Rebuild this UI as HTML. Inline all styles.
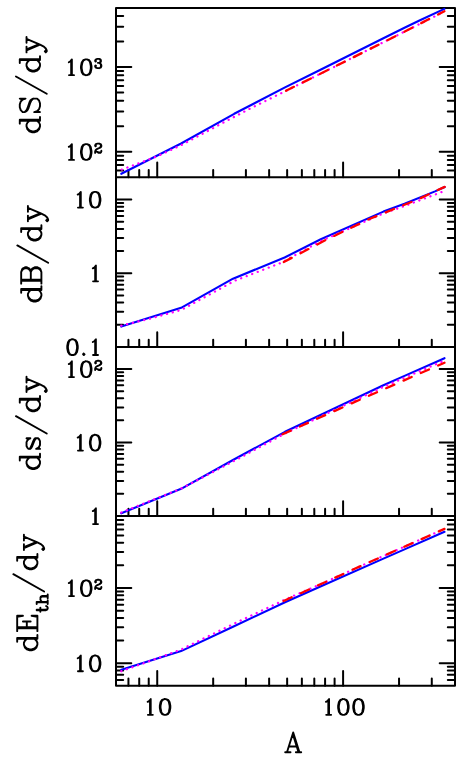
<!DOCTYPE html>
<html><head><meta charset="utf-8"><title>plot</title>
<style>html,body{margin:0;padding:0;background:#fff}svg{display:block}</style></head><body>
<svg width="463" height="760" viewBox="0 0 463 760">
<rect width="463" height="760" fill="#fff"/>
<g fill="none" stroke="#000" stroke-width="2.00" stroke-linecap="round" stroke-linejoin="round">
<path d="M116.00 170.59h7.2M455.00 170.59h-7.2M116.00 164.92h7.2M455.00 164.92h-7.2M116.00 160.01h7.2M455.00 160.01h-7.2M116.00 155.68h7.2M455.00 155.68h-7.2M116.00 151.80h15.3M455.00 151.80h-15.3M116.00 126.30h7.2M455.00 126.30h-7.2M116.00 111.39h7.2M455.00 111.39h-7.2M116.00 100.81h7.2M455.00 100.81h-7.2M116.00 92.60h7.2M455.00 92.60h-7.2M116.00 85.89h7.2M455.00 85.89h-7.2M116.00 80.22h7.2M455.00 80.22h-7.2M116.00 75.31h7.2M455.00 75.31h-7.2M116.00 70.98h7.2M455.00 70.98h-7.2M116.00 67.10h15.3M455.00 67.10h-15.3M116.00 41.60h7.2M455.00 41.60h-7.2M116.00 26.69h7.2M455.00 26.69h-7.2M116.00 16.11h7.2M455.00 16.11h-7.2M128.44 177.25v-7.2M139.22 177.25v-7.2M148.73 177.25v-7.2M157.23 177.25v-14.8M213.18 177.25v-7.2M245.91 177.25v-7.2M269.14 177.25v-7.2M287.15 177.25v-7.2M301.86 177.25v-7.2M314.31 177.25v-7.2M325.09 177.25v-7.2M334.59 177.25v-7.2M343.10 177.25v-14.8M399.05 177.25v-7.2M431.78 177.25v-7.2M116.00 324.76h7.2M455.00 324.76h-7.2M116.00 311.79h7.2M455.00 311.79h-7.2M116.00 302.58h7.2M455.00 302.58h-7.2M116.00 295.44h7.2M455.00 295.44h-7.2M116.00 289.60h7.2M455.00 289.60h-7.2M116.00 284.67h7.2M455.00 284.67h-7.2M116.00 280.39h7.2M455.00 280.39h-7.2M116.00 276.62h7.2M455.00 276.62h-7.2M116.00 273.25h15.3M455.00 273.25h-15.3M116.00 251.06h7.2M455.00 251.06h-7.2M116.00 238.09h7.2M455.00 238.09h-7.2M116.00 228.88h7.2M455.00 228.88h-7.2M116.00 221.74h7.2M455.00 221.74h-7.2M116.00 215.90h7.2M455.00 215.90h-7.2M116.00 210.97h7.2M455.00 210.97h-7.2M116.00 206.69h7.2M455.00 206.69h-7.2M116.00 202.92h7.2M455.00 202.92h-7.2M116.00 199.55h15.3M455.00 199.55h-15.3M128.44 347.00v-7.2M139.22 347.00v-7.2M148.73 347.00v-7.2M157.23 347.00v-14.8M213.18 347.00v-7.2M245.91 347.00v-7.2M269.14 347.00v-7.2M287.15 347.00v-7.2M301.86 347.00v-7.2M314.31 347.00v-7.2M325.09 347.00v-7.2M334.59 347.00v-7.2M343.10 347.00v-14.8M399.05 347.00v-7.2M431.78 347.00v-7.2M116.00 493.87h7.2M455.00 493.87h-7.2M116.00 480.93h7.2M455.00 480.93h-7.2M116.00 471.75h7.2M455.00 471.75h-7.2M116.00 464.63h7.2M455.00 464.63h-7.2M116.00 458.81h7.2M455.00 458.81h-7.2M116.00 453.89h7.2M455.00 453.89h-7.2M116.00 449.62h7.2M455.00 449.62h-7.2M116.00 445.86h7.2M455.00 445.86h-7.2M116.00 442.50h15.3M455.00 442.50h-15.3M116.00 420.37h7.2M455.00 420.37h-7.2M116.00 407.43h7.2M455.00 407.43h-7.2M116.00 398.25h7.2M455.00 398.25h-7.2M116.00 391.13h7.2M455.00 391.13h-7.2M116.00 385.31h7.2M455.00 385.31h-7.2M116.00 380.39h7.2M455.00 380.39h-7.2M116.00 376.12h7.2M455.00 376.12h-7.2M116.00 372.36h7.2M455.00 372.36h-7.2M116.00 369.00h15.3M455.00 369.00h-15.3M128.44 516.00v-7.2M139.22 516.00v-7.2M148.73 516.00v-7.2M157.23 516.00v-14.8M213.18 516.00v-7.2M245.91 516.00v-7.2M269.14 516.00v-7.2M287.15 516.00v-7.2M301.86 516.00v-7.2M314.31 516.00v-7.2M325.09 516.00v-7.2M334.59 516.00v-7.2M343.10 516.00v-14.8M399.05 516.00v-7.2M431.78 516.00v-7.2M116.00 679.88h7.2M455.00 679.88h-7.2M116.00 674.85h7.2M455.00 674.85h-7.2M116.00 670.49h7.2M455.00 670.49h-7.2M116.00 666.64h7.2M455.00 666.64h-7.2M116.00 663.20h15.3M455.00 663.20h-15.3M116.00 640.56h7.2M455.00 640.56h-7.2M116.00 627.32h7.2M455.00 627.32h-7.2M116.00 617.93h7.2M455.00 617.93h-7.2M116.00 610.64h7.2M455.00 610.64h-7.2M116.00 604.68h7.2M455.00 604.68h-7.2M116.00 599.65h7.2M455.00 599.65h-7.2M116.00 595.29h7.2M455.00 595.29h-7.2M116.00 591.44h7.2M455.00 591.44h-7.2M116.00 588.00h15.3M455.00 588.00h-15.3M116.00 565.36h7.2M455.00 565.36h-7.2M116.00 552.12h7.2M455.00 552.12h-7.2M116.00 542.73h7.2M455.00 542.73h-7.2M116.00 535.44h7.2M455.00 535.44h-7.2M116.00 529.48h7.2M455.00 529.48h-7.2M116.00 524.45h7.2M455.00 524.45h-7.2M116.00 520.09h7.2M455.00 520.09h-7.2M128.44 685.70v-7.2M139.22 685.70v-7.2M148.73 685.70v-7.2M157.23 685.70v-14.8M213.18 685.70v-7.2M245.91 685.70v-7.2M269.14 685.70v-7.2M287.15 685.70v-7.2M301.86 685.70v-7.2M314.31 685.70v-7.2M325.09 685.70v-7.2M334.59 685.70v-7.2M343.10 685.70v-14.8M399.05 685.70v-7.2M431.78 685.70v-7.2"/>
<path d="M116.0 8.0H455.0V685.7H116.0Z"/>
<path d="M116.0 177.25H455.0M116.0 347.0H455.0M116.0 516.0H455.0"/>
</g>
<g fill="none" stroke-linecap="round" stroke-linejoin="round">
<path d="M121.3 173.8L181.1 143.5L234.2 113.8L285.0 87.4L321.0 69.5L383.4 38.3L404.5 27.8L420.0 20.3L444.4 8.9" stroke="#00f" stroke-width="2.1"/>
<path d="M121.8 169.6L157.0 156.4L181.0 145.3L225.0 121.7L235.4 116.3L250.0 108.6L286.0 90.8L340.0 64.0L410.7 28.5L444.4 11.5" stroke="#f0f" stroke-width="2.3" stroke-dasharray="0.1 5.8"/>
<path d="M286.0 90.8L340.0 64.0L410.7 28.5L444.4 11.2" stroke="#f00" stroke-width="2.3" stroke-dasharray="8.9 10.0"/>
<path d="M121.3 326.6L181.1 307.8L233.0 278.7L284.6 257.5L320.8 239.3L383.4 211.6L404.5 203.8L435.0 191.4L444.7 187.0" stroke="#00f" stroke-width="2.1"/>
<path d="M121.3 325.6L150.0 318.6L181.1 310.0L235.0 280.6L280.7 263.0L321.0 241.0L383.4 213.4L404.5 206.0L444.0 191.2" stroke="#f0f" stroke-width="2.3" stroke-dasharray="0.1 5.8"/>
<path d="M283.8 262.0L326.7 239.5L370.0 218.7L418.8 199.0L427.9 194.7L435.0 191.2L444.7 186.9" stroke="#f00" stroke-width="2.3" stroke-dasharray="8.9 10.0"/>
<path d="M121.3 513.3L181.1 488.8L233.0 460.0L285.0 431.8L321.0 414.7L383.4 385.2L404.5 375.9L444.5 358.2" stroke="#00f" stroke-width="2.1"/>
<path d="M121.3 512.5L181.1 488.6L233.0 461.5L285.0 433.5L321.0 416.3L383.4 386.9L444.5 360.5" stroke="#f0f" stroke-width="2.3" stroke-dasharray="0.1 5.8"/>
<path d="M282.6 434.3L321.0 417.0L366.7 396.7L444.5 362.7" stroke="#f00" stroke-width="2.3" stroke-dasharray="8.9 10.0"/>
<path d="M121.3 669.8L181.1 651.1L233.0 626.8L285.0 602.2L321.0 586.2L383.4 558.6L404.5 549.4L444.5 531.8" stroke="#00f" stroke-width="2.1"/>
<path d="M121.3 671.2L150.0 661.0L181.1 649.5L233.0 624.2L285.0 599.6L321.0 584.0L366.7 563.4L444.5 528.9" stroke="#f0f" stroke-width="2.3" stroke-dasharray="0.1 5.8"/>
<path d="M283.6 601.0L321.0 584.0L366.7 563.4L444.5 528.9" stroke="#f00" stroke-width="2.3" stroke-dasharray="8.9 10.0"/>
</g>
<path d="M68.80 62.20L70.24 61.45L71.90 59.43L71.90 75.18M71.14 60.18L71.14 75.18M69.03 75.18L74.01 75.18M85.49 59.43L83.22 60.18L81.71 62.43L80.96 66.18L80.96 68.43L81.71 72.18L83.22 74.43L85.49 75.18L87.00 75.18L89.26 74.43L90.77 72.18L91.53 68.43L91.53 66.18L90.77 62.43L89.26 60.18L87.00 59.43L85.49 59.43M85.49 59.43L83.98 60.18L83.22 60.93L82.47 62.43L81.71 66.18L81.71 68.43L82.47 72.18L83.22 73.68L83.98 74.43L85.49 75.18M87.00 75.18L88.51 74.43L89.26 73.68L90.02 72.18L90.77 68.43L90.77 66.18L90.02 62.43L89.26 60.93L88.51 60.18L87.00 59.43M95.57 60.65L96.02 61.10L95.57 61.54L95.13 61.10L95.13 60.65L95.57 59.77L96.02 59.33L97.35 58.88L99.14 58.88L100.47 59.33L100.92 60.21L100.92 61.54L100.47 62.42L99.14 62.87L97.80 62.87M99.14 58.88L100.03 59.33L100.47 60.21L100.47 61.54L100.03 62.42L99.14 62.87M99.14 62.87L100.03 63.31L100.92 64.19L101.36 65.08L101.36 66.41L100.92 67.29L100.47 67.73L99.14 68.18L97.35 68.18L96.02 67.73L95.57 67.29L95.13 66.41L95.13 65.96L95.57 65.52L96.02 65.96L95.57 66.41M100.47 63.75L100.92 65.08L100.92 66.41L100.47 67.29L100.03 67.73L99.14 68.18M68.80 146.90L70.24 146.15L71.90 144.12L71.90 159.88M71.14 144.88L71.14 159.88M69.03 159.88L74.01 159.88M85.49 144.12L83.22 144.88L81.71 147.12L80.96 150.88L80.96 153.12L81.71 156.88L83.22 159.12L85.49 159.88L87.00 159.88L89.26 159.12L90.77 156.88L91.53 153.12L91.53 150.88L90.77 147.12L89.26 144.88L87.00 144.12L85.49 144.12M85.49 144.12L83.98 144.88L83.22 145.62L82.47 147.12L81.71 150.88L81.71 153.12L82.47 156.88L83.22 158.38L83.98 159.12L85.49 159.88M87.00 159.88L88.51 159.12L89.26 158.38L90.02 156.88L90.77 153.12L90.77 150.88L90.02 147.12L89.26 145.62L88.51 144.88L87.00 144.12M95.57 145.35L96.02 145.79L95.57 146.24L95.13 145.79L95.13 145.35L95.57 144.47L96.02 144.03L97.35 143.58L99.14 143.58L100.47 144.03L100.92 144.47L101.36 145.35L101.36 146.24L100.92 147.12L99.58 148.01L97.35 148.89L96.46 149.34L95.57 150.22L95.13 151.55L95.13 152.88M99.14 143.58L100.03 144.03L100.47 144.47L100.92 145.35L100.92 146.24L100.47 147.12L99.14 148.01L97.35 148.89M95.13 151.99L95.57 151.55L96.46 151.55L98.69 152.43L100.03 152.43L100.92 151.99L101.36 151.55M96.46 151.55L98.69 152.88L100.47 152.88L100.92 152.43L101.36 151.55L101.36 150.66M77.71 194.65L79.14 193.90L80.81 191.88L80.81 207.62M80.05 192.62L80.05 207.62M77.94 207.62L82.92 207.62M94.39 191.88L92.13 192.62L90.62 194.88L89.86 198.62L89.86 200.88L90.62 204.62L92.13 206.88L94.39 207.62L95.91 207.62L98.17 206.88L99.68 204.62L100.44 200.88L100.44 198.62L99.68 194.88L98.17 192.62L95.91 191.88L94.39 191.88M94.39 191.88L92.88 192.62L92.13 193.38L91.38 194.88L90.62 198.62L90.62 200.88L91.38 204.62L92.13 206.12L92.88 206.88L94.39 207.62M95.91 207.62L97.41 206.88L98.17 206.12L98.92 204.62L99.68 200.88L99.68 198.62L98.92 194.88L98.17 193.38L97.41 192.62L95.91 191.88M92.81 268.35L94.24 267.60L95.91 265.57L95.91 281.32M95.15 266.32L95.15 281.32M93.04 281.32L98.02 281.32M71.75 339.28L69.48 340.03L67.97 342.28L67.22 346.03L67.22 348.28L67.97 352.03L69.48 354.28L71.75 355.03L73.25 355.03L75.52 354.28L77.03 352.03L77.78 348.28L77.78 346.03L77.03 342.28L75.52 340.03L73.25 339.28L71.75 339.28M71.75 339.28L70.23 340.03L69.48 340.78L68.73 342.28L67.97 346.03L67.97 348.28L68.73 352.03L69.48 353.53L70.23 354.28L71.75 355.03M73.25 355.03L74.77 354.28L75.52 353.53L76.28 352.03L77.03 348.28L77.03 346.03L76.28 342.28L75.52 340.78L74.77 340.03L73.25 339.28M83.83 353.53L83.07 354.28L83.83 355.03L84.58 354.28L83.83 353.53M92.81 342.05L94.24 341.30L95.91 339.28L95.91 355.03M95.15 340.03L95.15 355.03M93.04 355.03L98.02 355.03M68.80 364.10L70.24 363.35L71.90 361.32L71.90 377.07M71.14 362.07L71.14 377.07M69.03 377.07L74.01 377.07M85.49 361.32L83.22 362.07L81.71 364.32L80.96 368.07L80.96 370.32L81.71 374.07L83.22 376.32L85.49 377.07L87.00 377.07L89.26 376.32L90.77 374.07L91.53 370.32L91.53 368.07L90.77 364.32L89.26 362.07L87.00 361.32L85.49 361.32M85.49 361.32L83.98 362.07L83.22 362.82L82.47 364.32L81.71 368.07L81.71 370.32L82.47 374.07L83.22 375.57L83.98 376.32L85.49 377.07M87.00 377.07L88.51 376.32L89.26 375.57L90.02 374.07L90.77 370.32L90.77 368.07L90.02 364.32L89.26 362.82L88.51 362.07L87.00 361.32M95.57 362.55L96.02 363.00L95.57 363.44L95.13 363.00L95.13 362.55L95.57 361.67L96.02 361.22L97.35 360.78L99.14 360.78L100.47 361.22L100.92 361.67L101.36 362.55L101.36 363.44L100.92 364.32L99.58 365.21L97.35 366.09L96.46 366.53L95.57 367.42L95.13 368.75L95.13 370.07M99.14 360.78L100.03 361.22L100.47 361.67L100.92 362.55L100.92 363.44L100.47 364.32L99.14 365.21L97.35 366.09M95.13 369.19L95.57 368.75L96.46 368.75L98.69 369.63L100.03 369.63L100.92 369.19L101.36 368.75M96.46 368.75L98.69 370.07L100.47 370.07L100.92 369.63L101.36 368.75L101.36 367.86M77.71 437.60L79.14 436.85L80.81 434.82L80.81 450.57M80.05 435.57L80.05 450.57M77.94 450.57L82.92 450.57M94.39 434.82L92.13 435.57L90.62 437.82L89.86 441.57L89.86 443.82L90.62 447.57L92.13 449.82L94.39 450.57L95.91 450.57L98.17 449.82L99.68 447.57L100.44 443.82L100.44 441.57L99.68 437.82L98.17 435.57L95.91 434.82L94.39 434.82M94.39 434.82L92.88 435.57L92.13 436.32L91.38 437.82L90.62 441.57L90.62 443.82L91.38 447.57L92.13 449.07L92.88 449.82L94.39 450.57M95.91 450.57L97.41 449.82L98.17 449.07L98.92 447.57L99.68 443.82L99.68 441.57L98.92 437.82L98.17 436.32L97.41 435.57L95.91 434.82M92.81 511.10L94.24 510.35L95.91 508.33L95.91 524.08M95.15 509.08L95.15 524.08M93.04 524.08L98.02 524.08M68.80 583.10L70.24 582.35L71.90 580.33L71.90 596.08M71.14 581.08L71.14 596.08M69.03 596.08L74.01 596.08M85.49 580.33L83.22 581.08L81.71 583.33L80.96 587.08L80.96 589.33L81.71 593.08L83.22 595.33L85.49 596.08L87.00 596.08L89.26 595.33L90.77 593.08L91.53 589.33L91.53 587.08L90.77 583.33L89.26 581.08L87.00 580.33L85.49 580.33M85.49 580.33L83.98 581.08L83.22 581.83L82.47 583.33L81.71 587.08L81.71 589.33L82.47 593.08L83.22 594.58L83.98 595.33L85.49 596.08M87.00 596.08L88.51 595.33L89.26 594.58L90.02 593.08L90.77 589.33L90.77 587.08L90.02 583.33L89.26 581.83L88.51 581.08L87.00 580.33M95.57 581.55L96.02 582.00L95.57 582.44L95.13 582.00L95.13 581.55L95.57 580.67L96.02 580.23L97.35 579.78L99.14 579.78L100.47 580.23L100.92 580.67L101.36 581.55L101.36 582.44L100.92 583.32L99.58 584.21L97.35 585.09L96.46 585.54L95.57 586.42L95.13 587.75L95.13 589.08M99.14 579.78L100.03 580.23L100.47 580.67L100.92 581.55L100.92 582.44L100.47 583.32L99.14 584.21L97.35 585.09M95.13 588.19L95.57 587.75L96.46 587.75L98.69 588.63L100.03 588.63L100.92 588.19L101.36 587.75M96.46 587.75L98.69 589.08L100.47 589.08L100.92 588.63L101.36 587.75L101.36 586.86M77.71 658.30L79.14 657.55L80.81 655.53L80.81 671.28M80.05 656.28L80.05 671.28M77.94 671.28L82.92 671.28M94.39 655.53L92.13 656.28L90.62 658.53L89.86 662.28L89.86 664.53L90.62 668.28L92.13 670.53L94.39 671.28L95.91 671.28L98.17 670.53L99.68 668.28L100.44 664.53L100.44 662.28L99.68 658.53L98.17 656.28L95.91 655.53L94.39 655.53M94.39 655.53L92.88 656.28L92.13 657.03L91.38 658.53L90.62 662.28L90.62 664.53L91.38 668.28L92.13 669.78L92.88 670.53L94.39 671.28M95.91 671.28L97.41 670.53L98.17 669.78L98.92 668.28L99.68 664.53L99.68 662.28L98.92 658.53L98.17 657.03L97.41 656.28L95.91 655.53M147.64 701.82L149.08 701.07L150.74 699.05L150.74 714.80M149.98 699.80L149.98 714.80M147.87 714.80L152.85 714.80M164.33 699.05L162.06 699.80L160.55 702.05L159.80 705.80L159.80 708.05L160.55 711.80L162.06 714.05L164.33 714.80L165.84 714.80L168.10 714.05L169.61 711.80L170.37 708.05L170.37 705.80L169.61 702.05L168.10 699.80L165.84 699.05L164.33 699.05M164.33 699.05L162.82 699.80L162.06 700.55L161.31 702.05L160.55 705.80L160.55 708.05L161.31 711.80L162.06 713.30L162.82 714.05L164.33 714.80M165.84 714.80L167.35 714.05L168.10 713.30L168.86 711.80L169.61 708.05L169.61 705.80L168.86 702.05L168.10 700.55L167.35 699.80L165.84 699.05M325.96 701.82L327.39 701.07L329.05 699.05L329.05 714.80M328.30 699.80L328.30 714.80M326.18 714.80L331.17 714.80M342.64 699.05L340.38 699.80L338.87 702.05L338.11 705.80L338.11 708.05L338.87 711.80L340.38 714.05L342.64 714.80L344.15 714.80L346.42 714.05L347.93 711.80L348.68 708.05L348.68 705.80L347.93 702.05L346.42 699.80L344.15 699.05L342.64 699.05M342.64 699.05L341.13 699.80L340.38 700.55L339.62 702.05L338.87 705.80L338.87 708.05L339.62 711.80L340.38 713.30L341.13 714.05L342.64 714.80M344.15 714.80L345.66 714.05L346.42 713.30L347.17 711.80L347.93 708.05L347.93 705.80L347.17 702.05L346.42 700.55L345.66 699.80L344.15 699.05M357.74 699.05L355.48 699.80L353.97 702.05L353.21 705.80L353.21 708.05L353.97 711.80L355.48 714.05L357.74 714.80L359.25 714.80L361.52 714.05L363.03 711.80L363.78 708.05L363.78 705.80L363.03 702.05L361.52 699.80L359.25 699.05L357.74 699.05M357.74 699.05L356.23 699.80L355.48 700.55L354.72 702.05L353.97 705.80L353.97 708.05L354.72 711.80L355.48 713.30L356.23 714.05L357.74 714.80M359.25 714.80L360.76 714.05L361.52 713.30L362.27 711.80L363.03 708.05L363.03 705.80L362.27 702.05L361.52 700.55L360.76 699.80L359.25 699.05" fill="none" stroke="#000" stroke-width="1.85" stroke-linecap="round" stroke-linejoin="round"/>
<path transform="translate(40.00 135.20) rotate(-90)" d="M14.45 -20.22L14.45 0.00M15.41 -20.22L15.41 0.00M14.45 -10.59L12.52 -12.52L10.59 -13.48L8.67 -13.48L5.78 -12.52L3.85 -10.59L2.89 -7.70L2.89 -5.78L3.85 -2.89L5.78 -0.96L8.67 0.00L10.59 0.00L12.52 -0.96L14.45 -2.89M8.67 -13.48L6.74 -12.52L4.81 -10.59L3.85 -7.70L3.85 -5.78L4.81 -2.89L6.74 -0.96L8.67 0.00M11.56 -20.22L15.41 -20.22M14.45 0.00L18.30 0.00M35.63 -17.33L36.59 -20.22L36.59 -14.45L35.63 -17.33L33.70 -19.26L30.82 -20.22L27.93 -20.22L25.04 -19.26L23.11 -17.33L23.11 -15.41L24.07 -13.48L25.04 -12.52L26.96 -11.56L32.74 -9.63L34.67 -8.67L36.59 -6.74M23.11 -15.41L25.04 -13.48L26.96 -12.52L32.74 -10.59L34.67 -9.63L35.63 -8.67L36.59 -6.74L36.59 -2.89L34.67 -0.96L31.78 0.00L28.89 0.00L26.00 -0.96L24.07 -2.89L23.11 -5.78L23.11 0.00L24.07 -2.89M58.74 -24.07L41.41 6.74M75.11 -20.22L75.11 0.00M76.08 -20.22L76.08 0.00M75.11 -10.59L73.19 -12.52L71.26 -13.48L69.34 -13.48L66.45 -12.52L64.52 -10.59L63.56 -7.70L63.56 -5.78L64.52 -2.89L66.45 -0.96L69.34 0.00L71.26 0.00L73.19 -0.96L75.11 -2.89M69.34 -13.48L67.41 -12.52L65.48 -10.59L64.52 -7.70L64.52 -5.78L65.48 -2.89L67.41 -0.96L69.34 0.00M72.22 -20.22L76.08 -20.22M75.11 0.00L78.97 0.00M84.74 -13.48L90.52 0.00M85.71 -13.48L90.52 -1.93M96.30 -13.48L90.52 0.00L88.60 3.85L86.67 5.78L84.74 6.74L83.78 6.74L82.82 5.78L83.78 4.81L84.74 5.78M82.82 -13.48L88.60 -13.48M92.45 -13.48L98.23 -13.48" fill="none" stroke="#000" stroke-width="1.9" stroke-linecap="round" stroke-linejoin="round"/>
<path transform="translate(41.40 304.40) rotate(-90)" d="M14.45 -20.22L14.45 0.00M15.41 -20.22L15.41 0.00M14.45 -10.59L12.52 -12.52L10.59 -13.48L8.67 -13.48L5.78 -12.52L3.85 -10.59L2.89 -7.70L2.89 -5.78L3.85 -2.89L5.78 -0.96L8.67 0.00L10.59 0.00L12.52 -0.96L14.45 -2.89M8.67 -13.48L6.74 -12.52L4.81 -10.59L3.85 -7.70L3.85 -5.78L4.81 -2.89L6.74 -0.96L8.67 0.00M11.56 -20.22L15.41 -20.22M14.45 0.00L18.30 0.00M23.64 -20.22L23.64 0.00M24.60 -20.22L24.60 0.00M20.75 -20.22L32.30 -20.22L35.19 -19.26L36.16 -18.30L37.12 -16.37L37.12 -14.45L36.16 -12.52L35.19 -11.56L32.30 -10.59M32.30 -20.22L34.23 -19.26L35.19 -18.30L36.16 -16.37L36.16 -14.45L35.19 -12.52L34.23 -11.56L32.30 -10.59M24.60 -10.59L32.30 -10.59L35.19 -9.63L36.16 -8.67L37.12 -6.74L37.12 -3.85L36.16 -1.93L35.19 -0.96L32.30 0.00L20.75 0.00M32.30 -10.59L34.23 -9.63L35.19 -8.67L36.16 -6.74L36.16 -3.85L35.19 -1.93L34.23 -0.96L32.30 0.00M58.97 -24.07L41.64 6.74M75.34 -20.22L75.34 0.00M76.30 -20.22L76.30 0.00M75.34 -10.59L73.41 -12.52L71.49 -13.48L69.56 -13.48L66.67 -12.52L64.75 -10.59L63.78 -7.70L63.78 -5.78L64.75 -2.89L66.67 -0.96L69.56 0.00L71.49 0.00L73.41 -0.96L75.34 -2.89M69.56 -13.48L67.64 -12.52L65.71 -10.59L64.75 -7.70L64.75 -5.78L65.71 -2.89L67.64 -0.96L69.56 0.00M72.45 -20.22L76.30 -20.22M75.34 0.00L79.19 0.00M84.97 -13.48L90.75 0.00M85.93 -13.48L90.75 -1.93M96.53 -13.48L90.75 0.00L88.82 3.85L86.90 5.78L84.97 6.74L84.01 6.74L83.04 5.78L84.01 4.81L84.97 5.78M83.04 -13.48L88.82 -13.48M92.67 -13.48L98.45 -13.48" fill="none" stroke="#000" stroke-width="1.9" stroke-linecap="round" stroke-linejoin="round"/>
<path transform="translate(40.00 472.00) rotate(-90)" d="M14.45 -20.22L14.45 0.00M15.41 -20.22L15.41 0.00M14.45 -10.59L12.52 -12.52L10.59 -13.48L8.67 -13.48L5.78 -12.52L3.85 -10.59L2.89 -7.70L2.89 -5.78L3.85 -2.89L5.78 -0.96L8.67 0.00L10.59 0.00L12.52 -0.96L14.45 -2.89M8.67 -13.48L6.74 -12.52L4.81 -10.59L3.85 -7.70L3.85 -5.78L4.81 -2.89L6.74 -0.96L8.67 0.00M11.56 -20.22L15.41 -20.22M14.45 0.00L18.30 0.00M32.74 -11.56L33.70 -13.48L33.70 -9.63L32.74 -11.56L31.78 -12.52L29.85 -13.48L26.00 -13.48L24.07 -12.52L23.11 -11.56L23.11 -9.63L24.07 -8.67L26.00 -7.70L30.82 -5.78L32.74 -4.81L33.70 -3.85M23.11 -10.59L24.07 -9.63L26.00 -8.67L30.82 -6.74L32.74 -5.78L33.70 -4.81L33.70 -1.93L32.74 -0.96L30.82 0.00L26.96 0.00L25.04 -0.96L24.07 -1.93L23.11 -3.85L23.11 0.00L24.07 -1.93M55.85 -24.07L38.52 6.74M72.22 -20.22L72.22 0.00M73.19 -20.22L73.19 0.00M72.22 -10.59L70.30 -12.52L68.37 -13.48L66.45 -13.48L63.56 -12.52L61.63 -10.59L60.67 -7.70L60.67 -5.78L61.63 -2.89L63.56 -0.96L66.45 0.00L68.37 0.00L70.30 -0.96L72.22 -2.89M66.45 -13.48L64.52 -12.52L62.59 -10.59L61.63 -7.70L61.63 -5.78L62.59 -2.89L64.52 -0.96L66.45 0.00M69.34 -20.22L73.19 -20.22M72.22 0.00L76.08 0.00M81.85 -13.48L87.63 0.00M82.82 -13.48L87.63 -1.93M93.41 -13.48L87.63 0.00L85.71 3.85L83.78 5.78L81.85 6.74L80.89 6.74L79.93 5.78L80.89 4.81L81.85 5.78M79.93 -13.48L85.71 -13.48M89.56 -13.48L95.34 -13.48" fill="none" stroke="#000" stroke-width="1.9" stroke-linecap="round" stroke-linejoin="round"/>
<path transform="translate(37.40 653.30) rotate(-90)" d="M14.45 -20.22L14.45 0.00M15.41 -20.22L15.41 0.00M14.45 -10.59L12.52 -12.52L10.59 -13.48L8.67 -13.48L5.78 -12.52L3.85 -10.59L2.89 -7.70L2.89 -5.78L3.85 -2.89L5.78 -0.96L8.67 0.00L10.59 0.00L12.52 -0.96L14.45 -2.89M8.67 -13.48L6.74 -12.52L4.81 -10.59L3.85 -7.70L3.85 -5.78L4.81 -2.89L6.74 -0.96L8.67 0.00M11.56 -20.22L15.41 -20.22M14.45 0.00L18.30 0.00M25.04 -20.22L25.04 0.00M26.00 -20.22L26.00 0.00M31.78 -14.45L31.78 -6.74M22.15 -20.22L37.56 -20.22L37.56 -14.45L36.59 -20.22M26.00 -10.59L31.78 -10.59M22.15 0.00L37.56 0.00L37.56 -5.78L36.59 0.00M43.07 -0.72L43.07 8.20L43.60 9.78L44.64 10.30L45.69 10.30L46.74 9.78L47.27 8.73M43.60 -0.72L43.60 8.20L44.12 9.78L44.64 10.30M41.50 2.95L45.69 2.95M50.94 -0.72L50.94 10.30M51.47 -0.72L51.47 10.30M51.47 4.53L52.52 3.48L54.09 2.95L55.14 2.95L56.72 3.48L57.24 4.53L57.24 10.30M55.14 2.95L56.19 3.48L56.72 4.53L56.72 10.30M49.37 -0.72L51.47 -0.72M49.37 10.30L53.04 10.30M55.14 10.30L58.82 10.30M79.12 -24.07L61.79 6.74M95.50 -20.22L95.50 0.00M96.46 -20.22L96.46 0.00M95.50 -10.59L93.57 -12.52L91.64 -13.48L89.72 -13.48L86.83 -12.52L84.90 -10.59L83.94 -7.70L83.94 -5.78L84.90 -2.89L86.83 -0.96L89.72 0.00L91.64 0.00L93.57 -0.96L95.50 -2.89M89.72 -13.48L87.79 -12.52L85.87 -10.59L84.90 -7.70L84.90 -5.78L85.87 -2.89L87.79 -0.96L89.72 0.00M92.61 -20.22L96.46 -20.22M95.50 0.00L99.35 0.00M105.13 -13.48L110.90 0.00M106.09 -13.48L110.90 -1.93M116.68 -13.48L110.90 0.00L108.98 3.85L107.05 5.78L105.13 6.74L104.16 6.74L103.20 5.78L104.16 4.81L105.13 5.78M103.20 -13.48L108.98 -13.48M112.83 -13.48L118.61 -13.48" fill="none" stroke="#000" stroke-width="1.9" stroke-linecap="round" stroke-linejoin="round"/>
<path transform="translate(284.30 752.2)" d="M8.90 -19.74L2.67 0.00M8.90 -19.74L15.13 0.00M8.90 -16.92L14.24 0.00M4.45 -5.64L12.46 -5.64M0.89 0.00L6.23 0.00M11.57 0.00L16.91 0.00" fill="none" stroke="#000" stroke-width="1.9" stroke-linecap="round" stroke-linejoin="round"/>
</svg></body></html>
